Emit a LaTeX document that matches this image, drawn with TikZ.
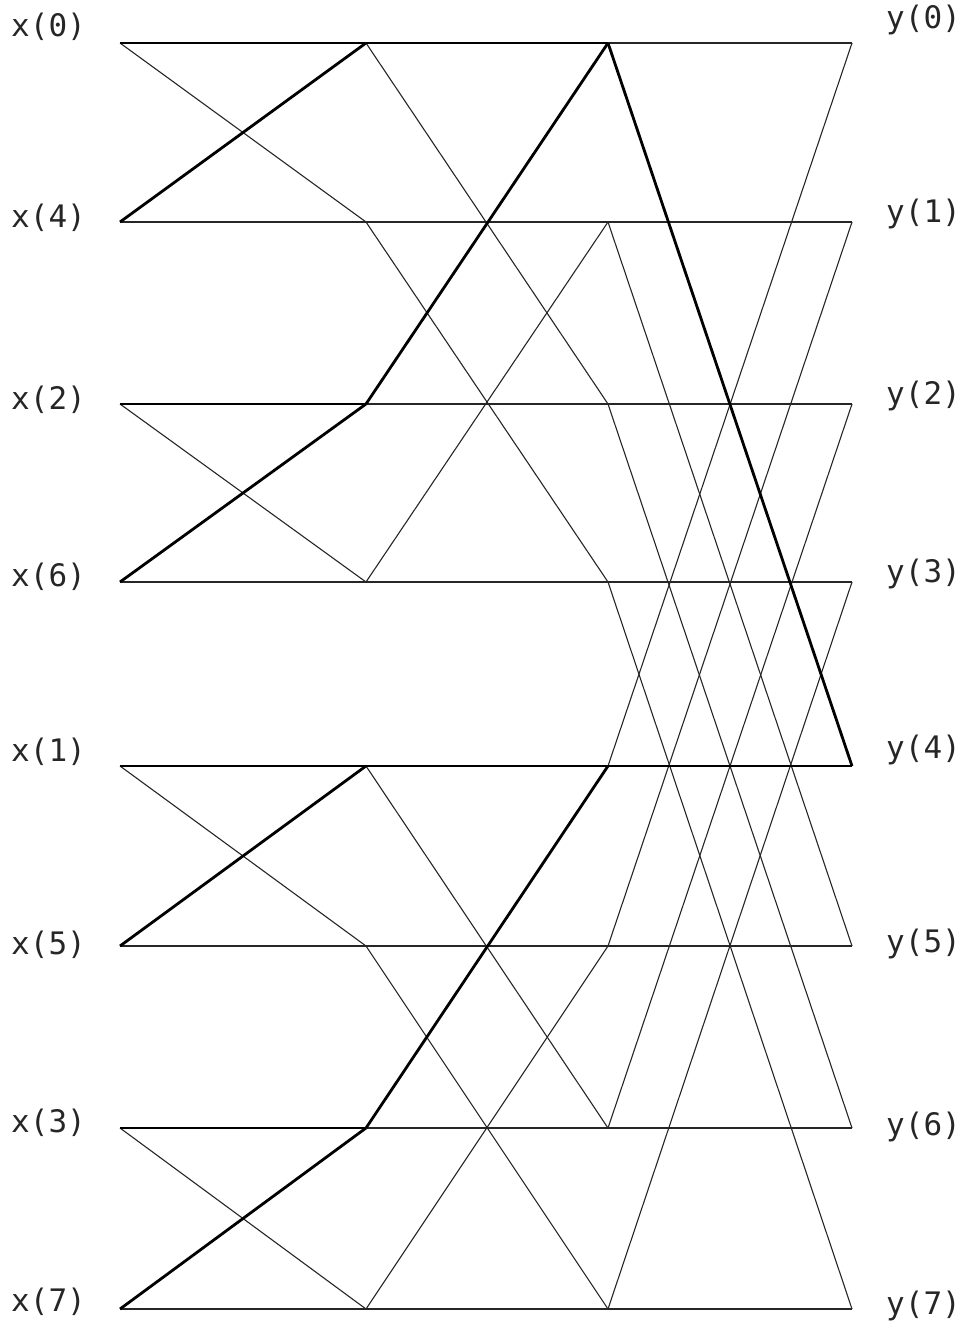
\documentclass[tikz,border=0pt]{standalone}
\usepackage{fontspec}
\newfontfamily\labfont{DejaVu Sans Mono}
\begin{document}
\begin{tikzpicture}[x=1pt,y=-1pt,
  thinline/.style={line width=1.1pt,black!85},
  boldline/.style={line width=2.8pt,black},
  lab/.style={font=\labfont\fontsize{31}{36}\selectfont,anchor=west,inner sep=0pt,text=black!85}]
\useasboundingbox (0,0) rectangle (972,1322);
% columns and rows
\foreach \c/\xx in {0/120,1/366,2/608,3/852}{
  \foreach \r/\yy in {0/43,1/222,2/404,3/582,4/766,5/946,6/1128,7/1309}{
    \coordinate (n\c\r) at (\xx,\yy);
  }
}
% labels
\node[lab] (lx0) at (11,27) {x(0)};
\node[lab] (lx4) at (11,218) {x(4)};
\node[lab] (lx2) at (11,400) {x(2)};
\node[lab] (lx6) at (11,577) {x(6)};
\node[lab] (lx1) at (11,752) {x(1)};
\node[lab] (lx5) at (11,945) {x(5)};
\node[lab] (lx3) at (11,1123) {x(3)};
\node[lab] (lx7) at (11,1302) {x(7)};
\node[lab] (ly0) at (886,20) {y(0)};
\node[lab] (ly1) at (886,214) {y(1)};
\node[lab] (ly2) at (886,396) {y(2)};
\node[lab] (ly3) at (886,574) {y(3)};
\node[lab] (ly4) at (886,750) {y(4)};
\node[lab] (ly5) at (886,944) {y(5)};
\node[lab] (ly6) at (886,1127) {y(6)};
\node[lab] (ly7) at (886,1306) {y(7)};
% stage 1 (pairs r, r+1)
\foreach \r/\s in {0/1,2/3,4/5,6/7}{
  \draw[thinline] (n0\r) -- (n1\s);
  \draw[thinline] (n0\s) -- (n1\s);
  \draw[boldline] (n0\r) -- (n1\r);
  \draw[boldline] (n0\s) -- (n1\r);
}
% stage 2 (pairs r, r+2)
\foreach \r/\s in {1/3,5/7}{
  \draw[thinline] (n1\r) -- (n2\r);
  \draw[thinline] (n1\s) -- (n2\s);
  \draw[thinline] (n1\r) -- (n2\s);
  \draw[thinline] (n1\s) -- (n2\r);
}
\foreach \r/\s in {0/2,4/6}{
  \draw[thinline] (n1\r) -- (n2\s);
  \draw[thinline] (n1\s) -- (n2\s);
  \draw[boldline] (n1\r) -- (n2\r);
  \draw[boldline] (n1\s) -- (n2\r);
}
% stage 3 (pairs r, r+4)
\foreach \r/\s in {0/4,1/5,2/6,3/7}{
  \draw[thinline] (n2\r) -- (n3\r);
  \draw[thinline] (n2\s) -- (n3\r);
  \draw[thinline] (n2\s) -- (n3\s);
}
\foreach \r/\s in {1/5,2/6,3/7}{
  \draw[thinline] (n2\r) -- (n3\s);
}
\draw[boldline] (n20) -- (n34);
\draw[boldline] (n24) -- (n34);
\end{tikzpicture}
\end{document}
